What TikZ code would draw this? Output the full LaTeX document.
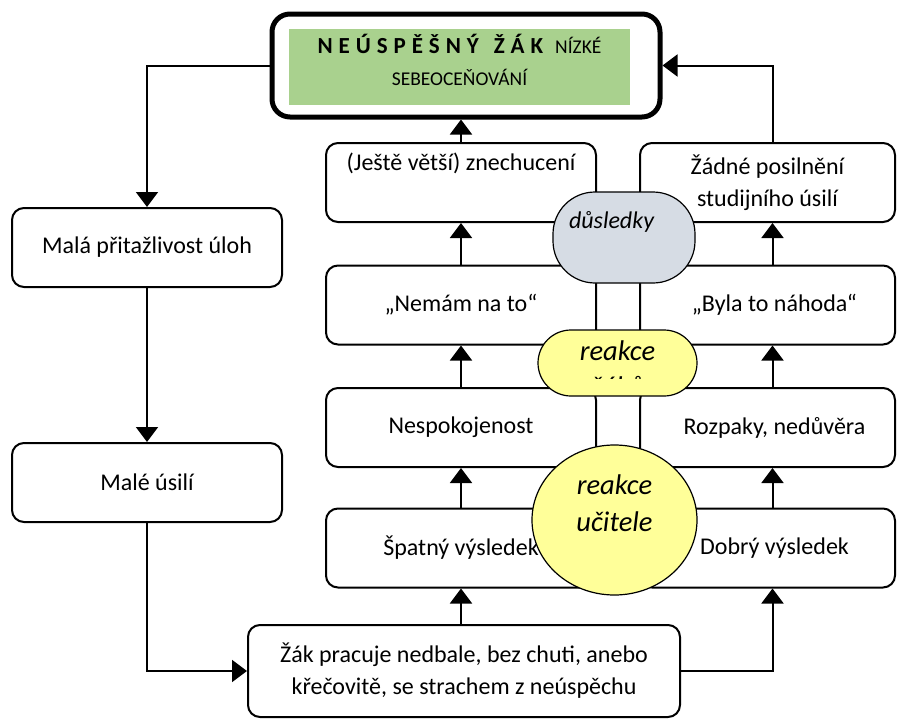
\documentclass[tikz,border=0pt]{standalone}
\usepackage{fontspec}
\setmainfont{Carlito}
\usetikzlibrary{arrows.meta,shapes.geometric}
\definecolor{greenf}{HTML}{A9D18E}
\definecolor{grayf}{HTML}{D6DCE4}
\definecolor{yelf}{HTML}{FFFF99}
\begin{document}
\begin{tikzpicture}[x=1pt,y=-1pt,
  box/.style={draw, line width=2pt, rounded corners=12pt, fill=white,
    font=\fontsize{24}{32}\selectfont, align=center, inner sep=0pt},
  lbox/.style={box, minimum width=270pt, minimum height=79pt},
  rbox/.style={box, minimum width=255pt, minimum height=79pt},
  arr/.style={line width=2pt, -{Triangle[width=22pt,length=15pt]}},
  elltxt/.style={font=\itshape\fontsize{28.5}{37}\selectfont, align=center, inner sep=0pt},
]
\useasboundingbox (0,0) rectangle (903,720);

% top box
\node[draw, line width=5pt, rounded corners=18pt, minimum width=388pt, minimum height=103pt, inner sep=0pt] (top) at (466,65.5) {};
\node[fill=greenf, minimum width=341pt, minimum height=76pt, inner sep=0pt] (green) at (459.5,67) {};
\node[align=center, font=\fontsize{19.5}{32}\selectfont] (title) at (459.5,60)
  {{\fontsize{23}{32}\selectfont\bfseries\addfontfeature{LetterSpace=26}NEÚSPĚŠNÝ \,ŽÁK}\hspace{12pt}NÍZKÉ\\SEBEOCEŇOVÁNÍ};

% left chain
\node[lbox] (m1) at (147,247.5) {Malá přitažlivost úloh};
\node[lbox] (m2) at (147,482.5) {Malé úsilí};

% columns
\node[lbox] (L1) at (461,182.5) {(Ještě větší) znechucení\\\strut};
\node[lbox] (L2) at (461,305) {„Nemám na to“};
\node[lbox] (L3) at (461,427.5) {Nespokojenost};
\node[lbox] (L4) at (461,548) {Špatný výsledek};
\node[rbox] (R1) at (767.5,182.5) {Žádné posilnění\\studijního úsilí};
\node[rbox] (R2) at (767.5,305) {\hspace*{14pt}„Byla to náhoda“};
\node[rbox] (R3) at (767.5,427.5) {\hspace*{14pt}Rozpaky, nedůvěra};
\node[rbox] (R4) at (767.5,548) {\hspace*{14pt}Dobrý výsledek};

% bottom box
\node[box, minimum width=432pt, minimum height=92pt] (bot) at (464,671) {Žák pracuje nedbale, bez chuti, anebo\\křečovitě, se strachem z neúspěchu};

% ellipses
\node[draw, line width=1.2pt, fill=grayf, minimum width=142pt, minimum height=91pt, rounded corners=42pt] (dus) at (624,237.5) {};
\node[elltxt, font=\itshape\fontsize{24}{30}\selectfont] (dust) at (611.5,222) {důsledky};

\node[draw, line width=1.2pt, fill=yelf, minimum width=159pt, minimum height=66pt, rounded corners=33pt] (rz) at (617.5,363) {};
\begin{scope}
  \clip (538,330) rectangle (697,378);
  \node[elltxt, font=\itshape\fontsize{28.5}{36}\selectfont, anchor=north] (rzt) at (617.5,341) {reakce\\žáků};
\end{scope}

\node[draw, line width=1.2pt, fill=yelf, ellipse, minimum width=165pt, minimum height=150pt, inner sep=0pt] (ru) at (614.5,520) {};
\node[elltxt] (rut) at (614.5,503) {reakce\\učitele};

% arrows
\draw[arr] (top.west) -| (m1.north);
\draw[arr] (m1.south) -- (m2.north);
\draw[arr] (m2.south) |- (bot.west);
\draw[arr] (L4.south |- bot.north) -- (L4.south);
\draw[arr] (bot.east) -| ([xshift=5pt]R4.south);
\draw[arr] (L4.north) -- (L3.south);
\draw[arr] (L3.north) -- (L2.south);
\draw[arr] (L2.north) -- (L1.south);
\draw[arr] (L1.north) -- (L1.north |- top.south);
\draw[arr] ([xshift=5pt]R4.north) -- ([xshift=5pt]R3.south);
\draw[arr] ([xshift=5pt]R3.north) -- ([xshift=5pt]R2.south);
\draw[arr] ([xshift=5pt]R2.north) -- ([xshift=5pt]R1.south);
\draw[arr] ([xshift=5pt]R1.north) |- (top.east);
\end{tikzpicture}
\end{document}
